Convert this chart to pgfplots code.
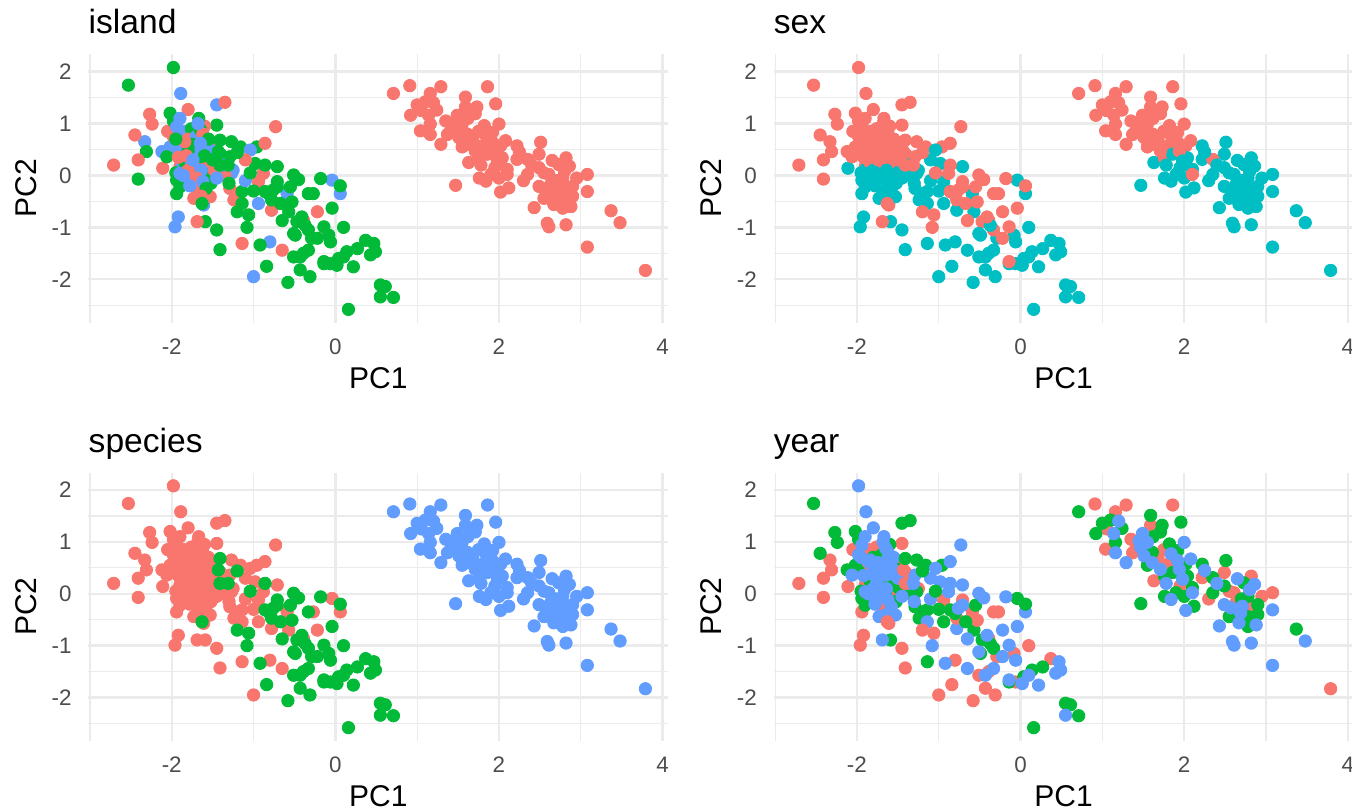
\documentclass[border=0pt]{standalone}
\usepackage{pgfplots}
\pgfplotsset{compat=1.18}
\usepackage{pgfplotstable}
\usepackage{fontspec}
\setmainfont{Liberation Sans}

\definecolor{hRed}{HTML}{F8766D}
\definecolor{hGreen}{HTML}{00BA38}
\definecolor{hBlue}{HTML}{619CFF}
\definecolor{hTeal}{HTML}{00BFC4}
\definecolor{gridc}{HTML}{EBEBEB}
\definecolor{tickc}{HTML}{4D4D4D}

% PCA scores: species A/C/G, island B/D/T, sex f/m, year y7/y8/y9
\pgfplotstableread{
x y sp isl sex yr
-1.45 0.97 A D f y7
-2.33 0.65 A T f y7
-2.31 0.46 A D f y7
-2.41 0.30 A B f y7
-2.71 0.20 A B f y7
-2.41 -0.07 A D f y7
-2.11 0.14 A B m y7
-1.78 0.81 A D f y7
-1.90 0.17 A B f y7
-1.94 -0.35 A D m y7
-1.61 -0.57 A T f y7
-0.94 -0.12 A B m y7
-0.59 -0.35 A T m y7
-0.27 -0.35 A D f y7
-1.92 -0.80 A T m y7
-1.96 -0.99 A T m y7
-1.45 -1.05 A D m y7
-1.41 -1.43 A D m y7
-0.80 -1.28 A T m y7
-1.00 -1.95 A T m y7
-0.39 -0.86 A B f y7
-1.85 0.85 A T f y7
-1.58 0.55 A D f y7
-1.88 0.55 A T f y7
-1.68 0.28 A B f y7
-1.56 0.18 A B m y7
-1.88 0.15 A T m y7
-1.55 0.02 A D m y7
-1.68 -0.30 A B m y7
-1.76 0.90 A D f y7
-2.05 0.85 A B f y7
-1.48 0.62 A B f y7
-1.40 0.40 A D f y7
-1.25 0.10 A T m y7
-2.53 1.74 A D f y8
-1.45 1.36 A T f y8
-1.35 1.41 A B f y8
-2.27 1.18 A B f y8
-2.24 0.99 A B f y8
-2.02 1.20 A D f y8
-2.45 0.78 A B f y8
-2.12 0.46 A T f y8
-1.78 0.30 A B f y8
-1.94 -0.09 A D m y8
-1.65 -0.02 A D m y8
-1.55 0.17 A D f y8
-1.53 -0.15 A D m y8
-1.98 0.43 A T f y8
-1.73 0.55 A T f y8
-1.61 0.30 A B f y8
-1.27 0.65 A D f y8
-1.16 0.55 A D f y8
-1.27 0.04 A T m y8
-1.29 -0.25 A B m y8
-1.20 -0.35 A B m y8
-1.24 -0.47 A B m y8
-1.14 -0.31 A D m y8
-0.96 0.55 A D f y8
-0.94 -0.54 A T m y8
-0.57 -0.70 A D m y8
-0.04 -0.09 A T m y8
-1.59 -0.89 A D m y8
-1.14 -1.31 A B m y8
-1.80 0.70 A B f y8
-1.70 0.75 A T f y8
-1.72 0.40 A B f y8
-1.84 0.25 A D f y8
-1.52 0.48 A T f y8
-1.72 0.05 A D m y8
-1.95 0.05 A D m y8
-1.48 0.10 A B m y8
-1.90 -0.22 A D m y8
-1.60 0.95 A B f y8
-2.02 0.55 A T f y8
-1.98 1.05 A D f y8
-1.74 0.52 A D f y8
-1.66 0.18 A D f y8
-1.60 0.25 A B f y8
-1.52 -0.15 A D m y8
-1.35 0.00 A B m y8
-1.00 -0.30 A D m y8
-1.98 2.08 A D f y9
-1.89 1.58 A T f y9
-1.80 1.27 A B f y9
-1.67 1.10 A D f y9
-0.73 0.94 A B f y9
-1.98 0.75 A B f y9
-1.94 0.94 A T f y9
-1.86 0.62 A T f y9
-1.65 0.88 A D f y9
-1.57 0.68 A B f y9
-1.57 0.49 A T f y9
-1.65 0.36 A D f y9
-1.90 0.04 A T m y9
-1.78 -0.09 A T m y9
-1.73 -0.44 A B m y9
-1.53 -0.41 A B m y9
-2.06 0.36 A D f y9
-1.29 0.36 A D f y9
-1.04 0.49 A T m y9
-0.86 0.62 A B f y9
-0.98 0.23 A D m y9
-0.88 0.04 A B f y9
-0.71 0.17 A D m y9
-0.78 -0.67 A B m y9
0.06 -0.35 A T m y9
-0.22 -0.70 A B f y9
-1.14 -0.54 A D m y9
-1.69 -0.89 A B f y9
-0.65 -1.44 A B m y9
-1.75 0.60 A D f y9
-1.62 0.80 A B f y9
-1.66 0.45 A T f y9
-1.80 0.48 A D f y9
-1.92 0.35 A B f y9
-1.76 0.20 A T f y9
-1.60 0.38 A D f y9
-1.50 0.30 A D f y9
-1.64 0.10 A T m y9
-1.80 0.10 A B m y9
-1.70 -0.05 A B m y9
-1.62 -0.12 A T m y9
-1.45 -0.05 A T m y9
-1.58 -0.25 A D m y9
-1.78 -0.20 A T m y9
-1.84 0.65 A B f y9
-1.68 1.00 A T f y9
-1.95 0.70 A D f y9
-1.90 1.10 A T f y9
-1.55 0.70 A D f y9
-1.65 0.62 A T f y9
-1.82 0.38 A B f y9
-1.74 0.30 A T f y9
-1.86 0.00 A T m y9
-1.64 -0.40 A B m y9
-1.38 0.20 A T m y9
-1.30 -0.15 A D m y9
-1.10 0.30 A B m y9
-1.10 -0.10 A T m y9
0.91 1.73 G B f y7
1.29 1.71 G B f y7
1.16 1.58 G B f y7
1.86 1.71 G B f y7
1.04 0.86 G B f y7
1.59 1.32 G B f y7
1.37 0.79 G B f y7
1.63 0.25 G B m y7
2.22 0.31 G B m y7
2.49 0.41 G B m y7
2.61 0.02 G B m y7
2.63 -0.18 G B m y7
2.82 0.34 G B m y7
3.08 0.02 G B m y7
3.79 -1.83 G B m y7
1.41 0.86 G B f y7
1.80 0.57 G B f y7
1.68 0.70 G B f y7
1.35 1.05 G B f y7
1.95 0.15 G B m y7
2.55 0.05 G B m y7
2.80 -0.25 G B m y7
2.30 -0.10 G B m y7
1.05 1.25 G B f y7
1.75 0.85 G B f y7
2.65 -0.40 G B m y7
2.95 -0.05 G B m y7
0.71 1.58 G B f y8
1.59 1.51 G B f y8
1.96 1.38 G B f y8
1.00 1.36 G B f y8
1.10 1.42 G B f y8
1.24 1.26 G B f y8
0.92 1.16 G B f y8
1.16 0.99 G B f y8
1.73 1.32 G B f y8
1.71 1.19 G B f y8
1.61 0.80 G B f y8
1.82 0.96 G B f y8
1.92 0.83 G B f y8
1.76 0.34 G B f y8
1.86 0.41 G B m y8
2.02 0.57 G B f y8
1.90 0.02 G B m y8
1.76 -0.05 G B m y8
1.47 -0.19 G B m y8
2.12 -0.24 G B m y8
2.10 0.12 G B m y8
2.22 0.57 G B m y8
2.35 0.31 G B f y8
2.35 0.02 G B m y8
2.51 0.64 G B m y8
2.49 0.15 G B m y8
2.78 -0.05 G B m y8
2.78 -0.44 G B m y8
2.90 -0.21 G B m y8
2.90 -0.40 G B m y8
2.78 -0.63 G B m y8
3.37 -0.68 G B m y8
2.73 0.21 G B m y8
2.55 -0.44 G B m y8
2.04 0.34 G B m y8
1.55 0.55 G B f y8
2.00 -0.05 G B m y8
2.70 -0.10 G B m y8
1.62 1.10 G B f y8
1.14 1.16 G B f y9
1.16 0.79 G B f y9
1.49 1.16 G B f y9
1.55 0.99 G B f y9
1.29 0.60 G B f y9
1.47 0.89 G B f y9
1.84 0.77 G B f y9
2.00 0.99 G B f y9
1.61 0.60 G B f y9
1.71 0.47 G B f y9
1.94 0.47 G B f y9
2.08 0.67 G B f y9
1.98 0.28 G B m y9
1.84 -0.11 G B m y9
2.02 -0.32 G B m y9
2.10 0.02 G B f y9
2.65 0.29 G B m y9
2.49 -0.21 G B m y9
2.57 -0.27 G B m y9
2.71 -0.24 G B m y9
2.86 0.18 G B m y9
2.67 -0.56 G B m y9
2.88 -0.60 G B m y9
2.43 -0.62 G B m y9
2.59 -0.92 G B m y9
2.61 -0.99 G B m y9
2.82 -0.95 G B m y9
3.08 -0.31 G B m y9
3.48 -0.91 G B m y9
3.08 -1.38 G B m y9
2.80 0.08 G B m y9
2.69 -0.37 G B m y9
1.51 0.73 G B f y9
1.92 0.64 G B f y9
1.45 1.02 G B f y9
1.78 0.20 G B m y9
2.40 0.20 G B m y9
1.20 1.40 G B f y9
2.25 0.45 G B m y9
-1.43 0.46 C D f y7
-1.41 0.20 C D f y7
-1.63 -0.54 C D f y7
-1.20 -0.70 C D f y7
-1.06 -0.76 C D f y7
-0.84 -1.75 C D m y7
-0.71 -0.12 C D f y7
-0.78 -0.47 C D f y7
-0.53 -0.51 C D f y7
-0.33 -0.35 C D f y7
0.10 -1.00 C D m y7
-0.08 -1.15 C D m y7
-0.51 -1.57 C D m y7
-0.39 -1.50 C D m y7
-0.06 -1.70 C D m y7
0.37 -1.25 C D m y7
-0.43 -1.82 C D m y7
-0.31 -1.95 C D m y7
-0.58 -2.06 C D m y7
-0.29 -1.21 C D m y7
-1.41 0.68 C D f y8
-1.20 0.44 C D f y8
-1.04 0.05 C D f y8
-0.86 -0.31 C D f y8
-0.67 -0.54 C D f y8
0.06 -0.20 C D f y8
-0.47 -0.89 C D f y8
-0.49 -1.15 C D m y8
-0.33 -1.05 C D f y8
0.14 -1.47 C D m y8
0.27 -1.41 C D m y8
0.55 -2.11 C D m y8
0.61 -2.14 C D m y8
0.71 -2.35 C D m y8
0.16 -2.58 C D m y8
-0.80 -0.38 C D f y8
-0.37 -0.96 C D m y8
-0.55 -0.22 C D f y8
0.04 -1.60 C D m y8
-0.14 -1.70 C D m y8
-1.31 0.20 C D f y9
-0.86 0.20 C D f y9
-1.08 -1.00 C D f y9
-0.92 -1.34 C D m y9
-0.65 -0.87 C D f y9
-0.51 0.01 C D f y9
-0.45 -0.08 C D f y9
-0.18 -0.06 C D f y9
-0.04 -0.63 C D f y9
-0.41 -0.80 C D f y9
-0.22 -1.21 C D f y9
-0.14 -0.99 C D f y9
-0.06 -1.28 C D m y9
-0.33 -1.44 C D m y9
-0.14 -1.66 C D f y9
0.02 -1.73 C D m y9
0.10 -1.57 C D m y9
0.22 -1.76 C D m y9
0.47 -1.31 C D m y9
0.49 -1.47 C D m y9
0.43 -1.53 C D m y9
0.55 -2.34 C D m y9
-0.76 -0.28 C D f y9
-0.71 -0.22 C D f y9
-0.51 -1.12 C D m y9
-0.43 -1.57 C D m y9
}\peng

\pgfplotsset{
  pca/.style={
    scale only axis, width=290pt, height=134.15pt,
    xmin=-3.02, xmax=4.07, ymin=-2.835, ymax=2.335,
    xtick={-2,0,2,4}, xticklabels={-2,0,2,4},
    ytick={-2,-1,0,1,2}, yticklabels={-2,-1,0,1,2},
    minor xtick={-3,-1,1,3}, minor ytick={-2.5,-1.5,-0.5,0.5,1.5},
    grid=both,
    major grid style={gridc, line width=1.2pt},
    minor grid style={gridc, line width=0.6pt},
    axis line style={draw=none},
    major tick length=0pt, minor tick length=0pt,
    tick label style={font=\fontsize{11.2}{13}\selectfont, text=tickc},
    xticklabel style={anchor=base, inner sep=0pt, yshift=-15.85pt},
    yticklabel style={anchor=east, inner sep=0pt, xshift=-8.15pt},
    xlabel={PC1}, ylabel={PC2},
    label style={font=\fontsize{15}{18}\selectfont},
    xlabel style={at={(axis description cs:0.5,-0.2449)}, anchor=base},
    ylabel style={at={(axis description cs:-0.089,0.5)}, anchor=base},
    % the default title style already shifts by 6pt
    title style={at={(axis description cs:0,1)}, anchor=base west, inner sep=0pt,
      yshift=4.25pt, font=\fontsize{16.8}{20}\selectfont},
    only marks, scatter, point meta=explicit symbolic,
    mark=*, mark size=3.1pt,
    every mark/.append style={line width=0.3pt},
  }
}

\begin{document}
\begin{tikzpicture}
\useasboundingbox (0,0) rectangle (676pt,406pt);

\begin{axis}[pca, at={(44.15pt,244.7pt)}, anchor=south west, title={island},
  scatter/classes={B={draw=hRed,fill=hRed}, D={draw=hGreen,fill=hGreen}, T={draw=hBlue,fill=hBlue}}]
  \addplot table[x=x, y=y, meta=isl] {\peng};
\end{axis}

\begin{axis}[pca, at={(386.75pt,244.7pt)}, anchor=south west, title={sex},
  scatter/classes={f={draw=hRed,fill=hRed}, m={draw=hTeal,fill=hTeal}}]
  \addplot table[x=x, y=y, meta=sex] {\peng};
\end{axis}

\begin{axis}[pca, at={(44.15pt,35.55pt)}, anchor=south west, title={species},
  scatter/classes={A={draw=hRed,fill=hRed}, C={draw=hGreen,fill=hGreen}, G={draw=hBlue,fill=hBlue}}]
  \addplot table[x=x, y=y, meta=sp] {\peng};
\end{axis}

\begin{axis}[pca, at={(386.75pt,35.55pt)}, anchor=south west, title={year},
  scatter/classes={y7={draw=hRed,fill=hRed}, y8={draw=hGreen,fill=hGreen}, y9={draw=hBlue,fill=hBlue}}]
  \addplot table[x=x, y=y, meta=yr] {\peng};
\end{axis}
\end{tikzpicture}
\end{document}
